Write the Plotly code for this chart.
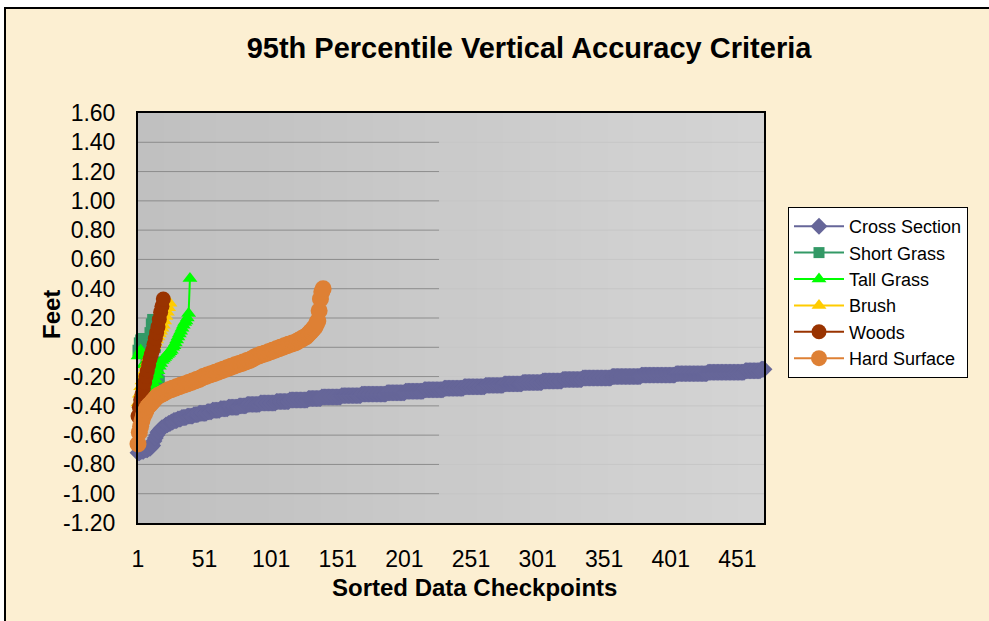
import plotly.graph_objects as go

# ---------------- data ----------------
title_text = "95th Percentile Vertical Accuracy Criteria"
x_title = "Sorted Data Checkpoints"
y_title = "Feet"
series_names = ["Cross Section", "Short Grass", "Tall Grass", "Brush", "Woods", "Hard Surface"]

cross_section = [
    -0.72, -0.72, -0.71, -0.71, -0.71, -0.70, -0.70, -0.70, -0.69, -0.69,
    -0.68, -0.67, -0.64, -0.62, -0.60, -0.58, -0.57, -0.56, -0.55, -0.55,
    -0.54, -0.53, -0.53, -0.52, -0.52, -0.51, -0.51, -0.50, -0.50, -0.50,
    -0.49, -0.49, -0.49, -0.48, -0.48, -0.48, -0.48, -0.47, -0.47, -0.47,
    -0.47, -0.47, -0.46, -0.46, -0.46, -0.46, -0.45, -0.45, -0.45, -0.45,
    -0.45, -0.45, -0.44, -0.44, -0.44, -0.44, -0.43, -0.43, -0.43, -0.43,
    -0.43, -0.43, -0.42, -0.42, -0.42, -0.42, -0.42, -0.42, -0.41, -0.41, -0.41, -0.41,
    -0.41, -0.41, -0.41, -0.41, -0.40, -0.40, -0.40, -0.40, -0.40, -0.40, -0.39, -0.39, -0.39, -0.39, -0.39,
    -0.39, -0.39, -0.39, -0.39, -0.39, -0.38, -0.38, -0.38, -0.38, -0.38, -0.38, -0.38, -0.38,
    -0.38, -0.38, -0.38, -0.38,
    -0.37, -0.37, -0.37, -0.37, -0.37, -0.37, -0.37, -0.37, -0.37, -0.37,
    -0.36, -0.36, -0.36, -0.36, -0.36, -0.36, -0.36, -0.36,
    -0.36, -0.36, -0.36, -0.36, -0.36, -0.36,
    -0.35, -0.35, -0.35, -0.35, -0.35, -0.35, -0.35, -0.35, -0.35, -0.35,
    -0.34, -0.34, -0.34, -0.34, -0.34, -0.34, -0.34,
    -0.34, -0.34, -0.34, -0.34, -0.34, -0.34, -0.34, -0.34,
    -0.33, -0.33, -0.33, -0.33, -0.33, -0.33, -0.33, -0.33, -0.33, -0.33, -0.33, -0.33, -0.33, -0.33, -0.33,
    -0.32, -0.32, -0.32, -0.32, -0.32, -0.32, -0.32, -0.32, -0.32, -0.32, -0.32, -0.32, -0.32, -0.32,
    -0.32, -0.32, -0.32, -0.32, -0.32,
    -0.31, -0.31, -0.31, -0.31, -0.31, -0.31, -0.31, -0.31, -0.31, -0.31, -0.31, -0.31, -0.31, -0.31,
    -0.30, -0.30, -0.30, -0.30, -0.30, -0.30, -0.30, -0.30, -0.30, -0.30, -0.30, -0.30, -0.30, -0.30,
    -0.29, -0.29, -0.29, -0.29, -0.29,
    -0.29, -0.29, -0.29, -0.29, -0.29, -0.29, -0.29, -0.29, -0.29, -0.29,
    -0.28, -0.28, -0.28, -0.28, -0.28, -0.28, -0.28, -0.28, -0.28, -0.28, -0.28, -0.28, -0.28, -0.28, -0.28,
    -0.27, -0.27, -0.27, -0.27, -0.27, -0.27, -0.27, -0.27, -0.27, -0.27, -0.27, -0.27, -0.27,
    -0.27, -0.27, -0.27,
    -0.26, -0.26, -0.26, -0.26, -0.26, -0.26, -0.26, -0.26, -0.26, -0.26, -0.26, -0.26, -0.26, -0.26,
    -0.25, -0.25, -0.25, -0.25, -0.25, -0.25, -0.25, -0.25, -0.25, -0.25, -0.25, -0.25, -0.25, -0.25,
    -0.24, -0.24, -0.24, -0.24, -0.24, -0.24, -0.24, -0.24, -0.24, -0.24, -0.24,
    -0.24, -0.24, -0.24, -0.24,
    -0.23, -0.23, -0.23, -0.23, -0.23, -0.23, -0.23, -0.23, -0.23, -0.23, -0.23, -0.23, -0.23, -0.23, -0.23,
    -0.22, -0.22, -0.22, -0.22, -0.22, -0.22, -0.22, -0.22, -0.22, -0.22, -0.22, -0.22, -0.22, -0.22, -0.22,
    -0.21, -0.21, -0.21, -0.21, -0.21, -0.21, -0.21, -0.21, -0.21, -0.21, -0.21, -0.21, -0.21, -0.21,
    -0.21, -0.21, -0.21, -0.21, -0.21, -0.21, -0.21, -0.21,
    -0.20, -0.20, -0.20, -0.20, -0.20, -0.20, -0.20, -0.20, -0.20, -0.20, -0.20,
    -0.20, -0.20, -0.20, -0.20, -0.20, -0.20, -0.20, -0.20, -0.20, -0.20, -0.20,
    -0.19, -0.19, -0.19, -0.19, -0.19, -0.19, -0.19, -0.19, -0.19, -0.19, -0.19,
    -0.19, -0.19, -0.19, -0.19, -0.19, -0.19, -0.19, -0.19, -0.19, -0.19, -0.19,
    -0.19, -0.19, -0.19, -0.19,
    -0.18, -0.18, -0.18, -0.18, -0.18, -0.18, -0.18, -0.18, -0.18, -0.18, -0.18, -0.18,
    -0.18, -0.18, -0.18, -0.18, -0.18, -0.18, -0.18, -0.18, -0.18, -0.18, -0.18, -0.18,
    -0.17, -0.17, -0.17, -0.17, -0.17, -0.17, -0.17, -0.17, -0.17, -0.17, -0.17,
    -0.17, -0.17, -0.17, -0.17, -0.17, -0.17, -0.17, -0.17, -0.17, -0.17, -0.17,
    -0.17, -0.17, -0.17, -0.17, -0.17, -0.17,
    -0.16, -0.16, -0.16, -0.16, -0.16, -0.16, -0.16, -0.16, -0.16, -0.16, -0.16, -0.16,
    -0.15, -0.15, -0.15,
]

short_grass = [-0.02, 0.03, 0.05, 0.06, 0.04, -0.02, -0.08, -0.05, 0.02, 0.10,
               0.16, 0.19, 0.12, 0.00, -0.10, -0.18, -0.23]

tall_grass = [-0.06, -0.04, -0.02, -0.05, -0.12, -0.20, -0.26, -0.30, -0.31, -0.31,
              -0.30, -0.28, -0.25, -0.22, -0.19, -0.16, -0.13, -0.11, -0.09, -0.08,
              -0.07, -0.06, -0.05, -0.04, -0.03, -0.02, 0.00, 0.01, 0.03, 0.05,
              0.07, 0.09, 0.11, 0.13, 0.15, 0.17, 0.18, 0.20, 0.23, 0.47]

brush = [-0.38, -0.32, -0.27, -0.23, -0.19, -0.16, -0.13, -0.10, -0.07, -0.05,
         -0.03, -0.01, 0.01, 0.03, 0.05, 0.07, 0.09, 0.11, 0.13, 0.15,
         0.18, 0.21, 0.24, 0.27, 0.30]

woods = [-0.47, -0.41, -0.36, -0.32, -0.28, -0.24, -0.20, -0.16, -0.12, -0.08,
         -0.05, -0.02, 0.02, 0.06, 0.10, 0.14, 0.19, 0.24, 0.28, 0.33]

hard_surface = [
    -0.66, -0.58, -0.54, -0.50, -0.47, -0.45, -0.43, -0.41, -0.40, -0.39,
    -0.38, -0.37, -0.36, -0.35, -0.34, -0.33, -0.33, -0.32, -0.32, -0.31,
    -0.31, -0.30, -0.30, -0.29, -0.29, -0.29, -0.28, -0.28, -0.28, -0.27,
    -0.27, -0.27, -0.26, -0.26, -0.26, -0.25, -0.25, -0.25, -0.24, -0.24,
    -0.24, -0.23, -0.23, -0.23, -0.22, -0.22, -0.22, -0.21, -0.21, -0.20,
    -0.20, -0.20, -0.19, -0.19, -0.19, -0.18, -0.18, -0.18, -0.17, -0.17,
    -0.17, -0.16, -0.16, -0.16, -0.15, -0.15, -0.15, -0.14, -0.14, -0.14,
    -0.13, -0.13, -0.13, -0.12, -0.12, -0.12, -0.11, -0.11, -0.11, -0.10,
    -0.10, -0.10, -0.09, -0.09, -0.09, -0.08, -0.08, -0.07, -0.07, -0.06,
    -0.06, -0.06, -0.05, -0.05, -0.05, -0.04, -0.04, -0.04, -0.03, -0.03,
    -0.03, -0.02, -0.02, -0.02, -0.01, -0.01, -0.01, 0.00, 0.00, 0.00,
    0.01, 0.01, 0.01, 0.02, 0.02, 0.02, 0.03, 0.03, 0.03, 0.04,
    0.04, 0.05, 0.05, 0.06, 0.06, 0.07, 0.07, 0.08, 0.09, 0.10,
    0.11, 0.12, 0.13, 0.14, 0.16, 0.18, 0.25, 0.33, 0.38, 0.40,
]

x_tick_vals = [1, 51, 101, 151, 201, 251, 301, 351, 401, 451]
x_tick_text = ["1", "51", "101", "151", "201", "251", "301", "351", "401", "451"]
y_tick_vals = [-1.2, -1.0, -0.8, -0.6, -0.4, -0.2, 0.0, 0.2, 0.4, 0.6, 0.8, 1.0, 1.2, 1.4, 1.6]
y_tick_text = ["-1.20", "-1.00", "-0.80", "-0.60", "-0.40", "-0.20", "0.00", "0.20",
               "0.40", "0.60", "0.80", "1.00", "1.20", "1.40", "1.60"]

# ---------------- styles ----------------
series_values = [cross_section, short_grass, tall_grass, brush, woods, hard_surface]
styles = [
    dict(color="#666699", symbol="diamond", size=13),
    dict(color="#339966", symbol="square", size=11),
    dict(color="#00FF00", symbol="triangle-up", size=13),
    dict(color="#FFCC00", symbol="triangle-up", size=13),
    dict(color="#993300", symbol="circle", size=15),
    dict(color="#DE8034", symbol="circle", size=17),
]

FONT = "Liberation Sans, Arial, Helvetica, sans-serif"
L, R, T, B = 138, 225, 113, 98
W, H = 989, 621
PW, PH = W - L - R, H - T - B


def px_to_paper_x(px):
    return (px - L) / PW


def px_to_paper_y(py):
    return (H - B - py) / PH


fig = go.Figure()
for name, vals, st in zip(series_names, series_values, styles):
    fig.add_trace(go.Scatter(
        x=list(range(1, len(vals) + 1)),
        y=vals,
        name=name,
        mode="lines+markers",
        line=dict(color=st["color"], width=2),
        marker=dict(color=st["color"], symbol=st["symbol"], size=st["size"],
                    line=dict(width=0)),
        cliponaxis=False,
        legendgroup=name,
    ))

shapes = []
# parchment background with frame
shapes.append(dict(type="rect", xref="paper", yref="paper",
                   x0=px_to_paper_x(5), x1=px_to_paper_x(1000),
                   y0=px_to_paper_y(640), y1=px_to_paper_y(8),
                   fillcolor="#FCEFD2", line=dict(color="black", width=2),
                   layer="below"))
# plot area gradient
nb = 24
for i in range(nb):
    t = i / (nb - 1)
    g = int(round(192 + (212 - 192) * t))
    shapes.append(dict(type="rect", xref="x domain", yref="y domain",
                       x0=i / nb, x1=(i + 1) / nb + 0.002, y0=0, y1=1,
                       fillcolor=f"rgb({g},{g},{g})", line=dict(width=0),
                       layer="below"))
# gridlines (visible on the left part, faint on the right)
for v in y_tick_vals[1:-1]:
    shapes.append(dict(type="line", xref="x domain", yref="y",
                       x0=0, x1=0.481, y0=v, y1=v,
                       line=dict(color="#8c8c8c", width=1), layer="below"))
    shapes.append(dict(type="line", xref="x domain", yref="y",
                       x0=0.481, x1=1, y0=v, y1=v,
                       line=dict(color="#c6c6c6", width=1), layer="below"))

fig.update_layout(
    width=W, height=H,
    margin=dict(l=L, r=R, t=T, b=B),
    paper_bgcolor="white",
    plot_bgcolor="#c8c8c8",
    font=dict(family=FONT, color="black"),
    shapes=shapes,
    title=dict(text="<b>" + title_text + "</b>", font=dict(size=29, family=FONT),
               x=529 / W, xref="container", xanchor="center",
               y=1 - 48 / H, yref="container", yanchor="middle"),
    showlegend=True,
    legend=dict(x=px_to_paper_x(788), y=px_to_paper_y(207), xanchor="left", yanchor="top",
                bgcolor="white", bordercolor="black", borderwidth=1,
                font=dict(size=18, family=FONT), tracegroupgap=0,
                itemwidth=50),
    annotations=[
        dict(text="<b>" + x_title + "</b>", xref="paper", yref="paper",
             x=px_to_paper_x(474), y=px_to_paper_y(587), xanchor="center", yanchor="middle",
             showarrow=False, font=dict(size=24, family=FONT)),
        dict(text="<b>" + y_title + "</b>", xref="paper", yref="paper",
             x=px_to_paper_x(51), y=px_to_paper_y(315), xanchor="center", yanchor="middle",
             textangle=-90, showarrow=False, font=dict(size=24, family=FONT)),
    ],
)

fig.update_xaxes(range=[1, 471], tickmode="array", tickvals=x_tick_vals, ticktext=x_tick_text,
                 showgrid=False, zeroline=False, showline=True, mirror=True,
                 linecolor="black", linewidth=2, ticks="",
                 tickfont=dict(size=23, family=FONT), ticklabelstandoff=14)
fig.update_yaxes(range=[-1.2, 1.6], tickmode="array", tickvals=y_tick_vals, ticktext=y_tick_text,
                 showgrid=False, zeroline=False, showline=True, mirror=True,
                 linecolor="black", linewidth=2, ticks="",
                 tickfont=dict(size=23, family=FONT), ticklabelstandoff=16)

fig.write_html("out.html", config={"displayModeBar": False},
               post_script="document.body.style.margin='0';")
